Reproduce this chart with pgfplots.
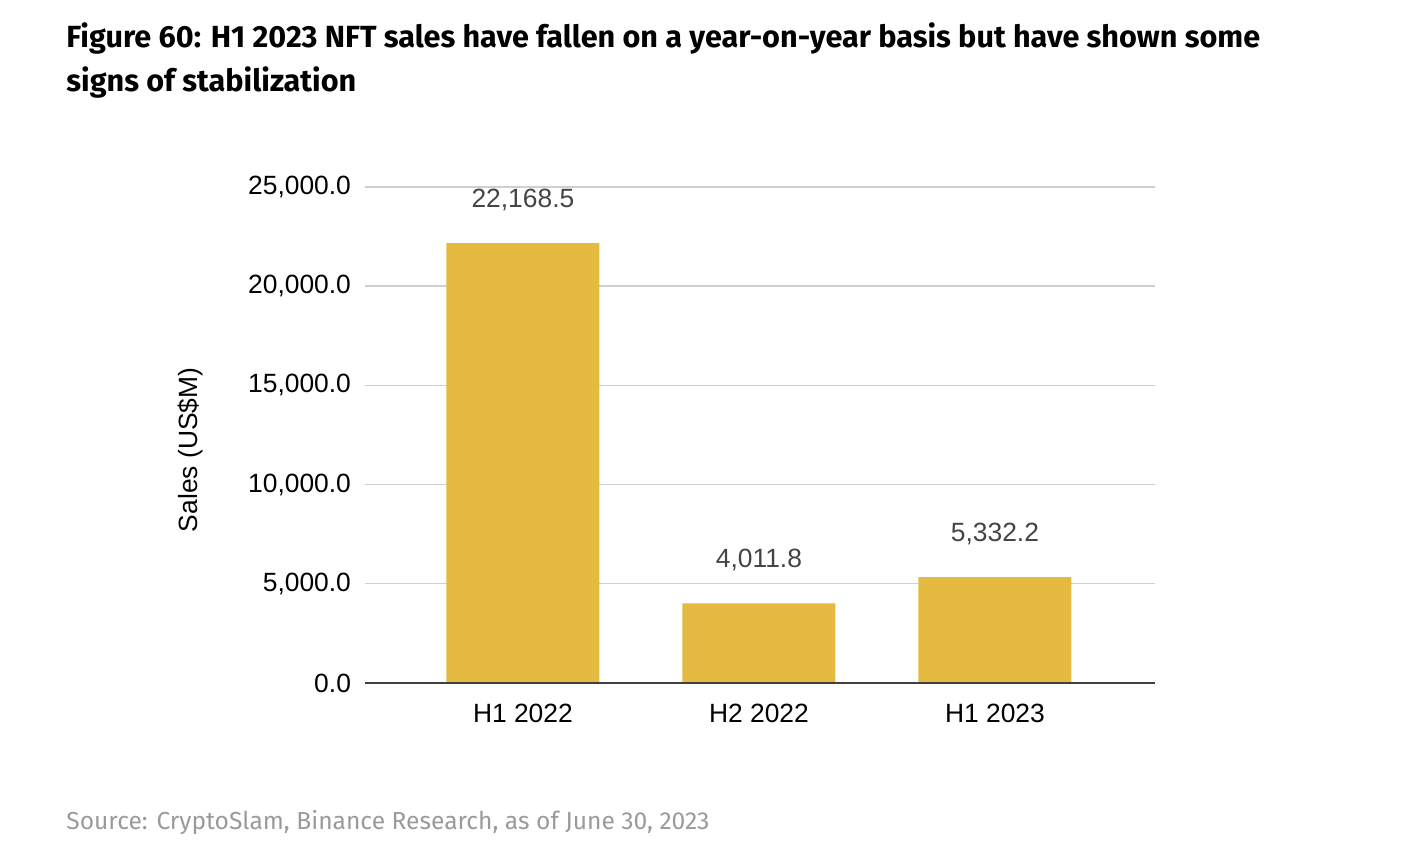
\documentclass[border=0pt]{standalone}
\usepackage{pgfplots}
\pgfplotsset{compat=1.18}
\usepackage{fontspec}
\setmainfont{Liberation Sans}
\newfontfamily\titlefont{Fira Sans}
\definecolor{barcol}{HTML}{E5BA40}
\definecolor{gridcol}{HTML}{CFCFCF}
\definecolor{valcol}{HTML}{444444}
\definecolor{srccol}{HTML}{9A9A9A}
\begin{document}
\begin{tikzpicture}
\path[use as bounding box] (0,0) rectangle (701pt,430.5pt);
\node[anchor=base west, font=\titlefont\bfseries\fontsize{15.3}{18}\selectfont, inner sep=0] at (33pt,406.5pt) {Figure 60: H1 2023 NFT sales have fallen on a year-on-year basis but have shown some};
\node[anchor=base west, font=\titlefont\bfseries\fontsize{15.3}{18}\selectfont, inner sep=0] at (33pt,384.5pt) {signs of stabilization};
\node[anchor=base west, font=\titlefont\fontsize{12.3}{14}\selectfont, text=srccol, inner sep=0] at (33pt,15.5pt) {Source: CryptoSlam, Binance Research, as of June 30, 2023};
\begin{axis}[
    at={(182.5pt,89pt)}, anchor=south west,
    scale only axis, width=395pt, height=248pt,
    ybar, bar width=76.5pt,
    xmin=-0.669, xmax=2.678,
    ymin=0, ymax=25000,
    ytick={0,5000,10000,15000,20000,25000},
    scaled y ticks=false,
    xtick=data, xticklabels={H1 2022, H2 2022, H1 2023},
    axis line style={draw=none},
    major tick length=0pt,
    ymajorgrids, grid style={gridcol, line width=0.7pt},
    tick label style={font=\fontsize{13.2}{15}\selectfont},
    /pgf/number format/assume math mode=true,
    yticklabel style={xshift=-3.5pt, /pgf/number format/fixed, /pgf/number format/fixed zerofill,
      /pgf/number format/precision=1, /pgf/number format/1000 sep={,}},
    xticklabel style={yshift=-7pt},
    nodes near coords,
    nodes near coords style={font=\fontsize{13.2}{15}\selectfont, text=valcol, anchor=center, yshift=21.5pt,
      /pgf/number format/fixed, /pgf/number format/fixed zerofill,
      /pgf/number format/precision=1, /pgf/number format/1000 sep={,}},
    clip=false,
  ]
  \addplot[fill=barcol, draw=none] coordinates {(0,22168.5) (1,4011.8) (2,5332.2)};
  \draw[color=black!75, line width=0.8pt] (rel axis cs:0,0) -- (rel axis cs:1,0);
  \node[rotate=90, font=\fontsize{13.2}{15}\selectfont] at ([xshift=-87.5pt]rel axis cs:0,0.47) {Sales (US\$M)};
\end{axis}
\end{tikzpicture}
\end{document}
